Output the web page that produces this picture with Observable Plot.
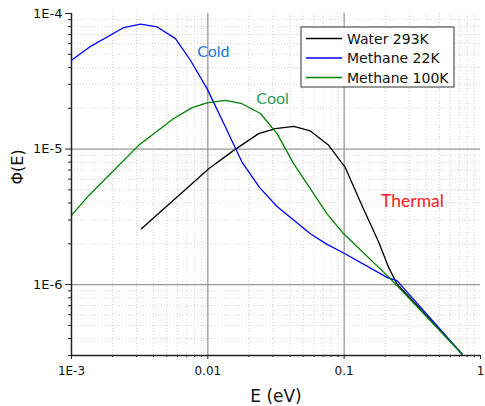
<!DOCTYPE html>
<html>
<head>
<meta charset="utf-8">
<script src="https://cdn.jsdelivr.net/npm/d3@7"></script>
<script src="https://cdn.jsdelivr.net/npm/@observablehq/plot@0.6"></script>
<style>
  html, body { margin: 0; padding: 0; background: #fff; }
</style>
</head>
<body>
<div id="chart"></div>
<script>
// ---- data ----
const waterE = [0.00326, 0.01015, 0.01549, 0.0236, 0.0313, 0.0426, 0.0565, 0.077, 0.102, 0.135, 0.179, 0.212, 0.244, 0.732];
const waterPhi = [2.58e-6, 7.16e-6, 9.78e-6, 1.30e-5, 1.415e-5, 1.47e-5, 1.36e-5, 1.065e-5, 7.29e-6, 3.84e-6, 2.06e-6, 1.34e-6, 1.01e-6, 3.08e-7];

const meth22E = [0.001, 0.00136, 0.00242, 0.00321, 0.00425, 0.00579, 0.00745, 0.00987, 0.0133, 0.0178, 0.024, 0.0322, 0.0565, 0.0749, 0.0992, 0.206, 0.244, 0.732];
const meth22Phi = [4.52e-5, 5.67e-5, 7.88e-5, 8.34e-5, 7.96e-5, 6.53e-5, 4.52e-5, 2.79e-5, 1.49e-5, 8.02e-6, 5.19e-6, 3.77e-6, 2.37e-6, 1.98e-6, 1.71e-6, 1.13e-6, 1.07e-6, 3.08e-7];

const meth100E = [0.001, 0.00134, 0.00311, 0.00562, 0.00767, 0.00987, 0.01345, 0.0178, 0.0243, 0.0322, 0.0426, 0.0749, 0.0992, 0.206, 0.244, 0.732];
const meth100Phi = [3.24e-6, 4.55e-6, 1.065e-5, 1.68e-5, 2.02e-5, 2.19e-5, 2.29e-5, 2.16e-5, 1.83e-5, 1.30e-5, 7.8e-6, 3.33e-6, 2.37e-6, 1.17e-6, 9.85e-7, 3.08e-7];

const seriesNames = ["Water 293K", "Methane 22K", "Methane 100K"];
const seriesColors = ["#000000", "#0000ff", "#008000"];

const noteText = ["Cold", "Cool", "Thermal"];
const noteE = [0.00835, 0.0227, 0.1865];
const notePhi = [4.78e-5, 2.14e-5, 3.78e-6];
const noteColors = ["#1a78d0", "#2e9a5a", "#ff1a1a"];

const xMajor = [1e-3, 1e-2, 1e-1, 1];
const xMajorLabels = ["1E-3", "0.01", "0.1", "1"];
const yMajor = [1e-6, 1e-5, 1e-4];
const yMajorLabels = ["1E-6", "1E-5", "1E-4"];
const xLabel = "E (eV)";
const yLabel = "Φ(E)";

// ---- build ----
const minorOf = (lo, hi) => {
  const out = [];
  for (let d = lo; d < hi * 0.999; d *= 10)
    for (let k = 2; k <= 9; k++) { const v = d * k; if (v > lo * 0.999 && v < hi * 1.001) out.push(v); }
  return out;
};
const xMinor = minorOf(1e-3, 1);
const yMinor = minorOf(1e-7, 1e-4).filter(v => v >= 3e-7);

const toRows = (E, P, name) => E.map((e, i) => ({E: e, phi: P[i], series: name}));
const rows = [
  ...toRows(waterE, waterPhi, seriesNames[0]),
  ...toRows(meth22E, meth22Phi, seriesNames[1]),
  ...toRows(meth100E, meth100Phi, seriesNames[2])
];
const notes = noteText.map((t, i) => ({t, E: noteE[i], phi: notePhi[i], c: noteColors[i]}));
const xLab = new Map(xMajor.map((v, i) => [v, xMajorLabels[i]]));
const yLab = new Map(yMajor.map((v, i) => [v, yMajorLabels[i]]));

const plot = Plot.plot({
  width: 485,
  height: 406,
  marginLeft: 71,
  marginRight: 5,
  marginTop: 13,
  marginBottom: 51,
  x: {type: "log", domain: [1e-3, 1]},
  y: {type: "log", domain: [3e-7, 1e-4]},
  color: {domain: seriesNames, range: seriesColors},
  style: {fontFamily: "'DejaVu Sans', sans-serif", fontSize: "12px", background: "#fff", overflow: "visible"},
  marks: [
    Plot.ruleX(xMinor, {stroke: "#d4d4d4", strokeDasharray: "1,2", strokeWidth: 1}),
    Plot.ruleY(yMinor, {stroke: "#d4d4d4", strokeDasharray: "1,2", strokeWidth: 1}),
    Plot.ruleX(xMajor.slice(1, 3), {stroke: "#999", strokeWidth: 1.3}),
    Plot.ruleY(yMajor.slice(0, 2), {stroke: "#999", strokeWidth: 1.3}),
    Plot.line(rows, {x: "E", y: "phi", z: "series", stroke: "series", strokeWidth: 1.3}),
    Plot.text(notes.filter(d => d.t !== "Thermal"), {x: "E", y: "phi", text: "t", fill: "c", textAnchor: "start", lineAnchor: "bottom", fontSize: 16, fontFamily: "Lato"}),
    Plot.text(notes.filter(d => d.t === "Thermal"), {x: "E", y: "phi", text: "t", fill: "c", textAnchor: "start", lineAnchor: "bottom", fontSize: 17.5, fontFamily: "Lato", dy: 1}),
    Plot.axisX(xMinor, {tickSize: 2, tickFormat: () => "", stroke: "#222", label: null}),
    Plot.axisX(xMajor, {tickSize: 4, tickPadding: 7, tickFormat: d => xLab.get(d), stroke: "#222", fill: "#111", label: null, fontSize: 12}),
    Plot.axisY(yMinor, {tickSize: 3, tickFormat: () => "", stroke: "#222", label: null}),
    Plot.axisY(yMajor, {tickSize: 6, tickPadding: 3, tickFormat: d => yLab.get(d), stroke: "#222", fill: "#111", label: null, fontSize: 13}),
    Plot.ruleX([1e-3], {stroke: "#222", strokeWidth: 1.5}),
    Plot.ruleY([3e-7], {stroke: "#222", strokeWidth: 1.5}),
    Plot.text([xLabel], {frameAnchor: "bottom", dy: 46, fontSize: 17, fill: "#111"}),
    Plot.text([yLabel], {frameAnchor: "left", dx: -54, rotate: -90, fontSize: 16, fill: "#111"})
  ]
});

// legend inside the plot area
const svg = d3.select(plot);
const lg = svg.append("g").attr("transform", "translate(301,27)").attr("text-anchor", "start");
lg.append("rect").attr("width", 153).attr("height", 60).attr("fill", "#fff").attr("stroke", "#333").attr("stroke-width", 1);
seriesNames.forEach((name, i) => {
  const y = 11.5 + i * 19.5;
  lg.append("line").attr("x1", 5).attr("x2", 41).attr("y1", y).attr("y2", y).attr("stroke", seriesColors[i]).attr("stroke-width", 1.3);
  lg.append("text").attr("x", 46).attr("y", y).attr("dy", "0.36em").attr("font-size", 14).attr("fill", "#111").attr("text-anchor", "start").attr("font-family", "'DejaVu Sans', sans-serif").text(name);
});

document.getElementById("chart").appendChild(plot);
</script>
</body>
</html>
